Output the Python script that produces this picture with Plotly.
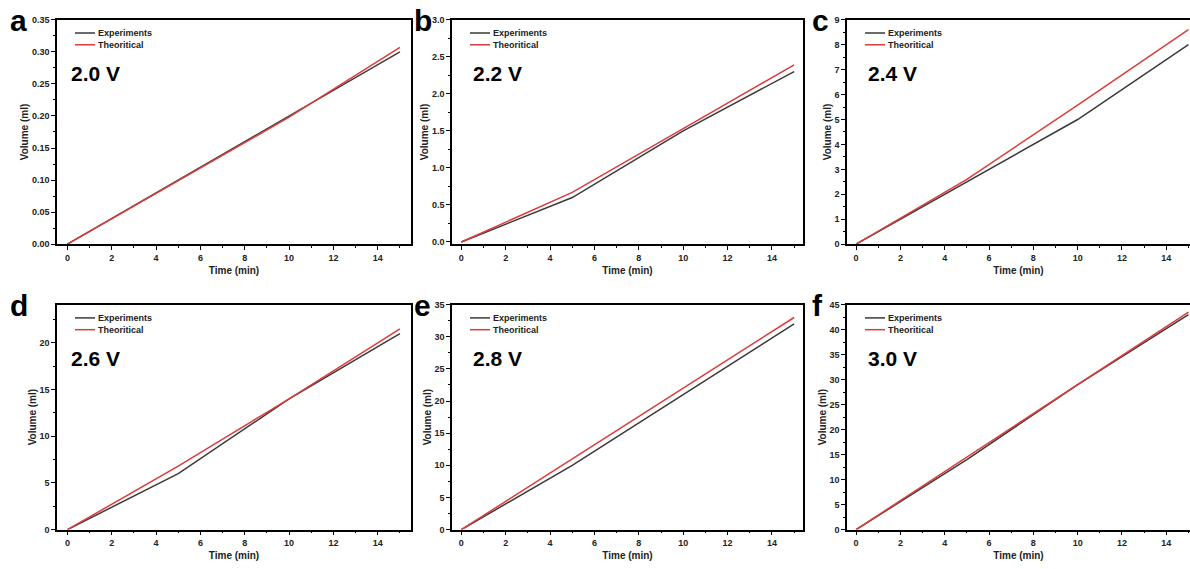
import plotly.graph_objects as go

# ---------------- data ----------------
time_min = [0, 5, 10, 15]
voltages = ["2.0 V", "2.2 V", "2.4 V", "2.6 V", "2.8 V", "3.0 V"]
panel_letters = ["a", "b", "c", "d", "e", "f"]
series_names = ["Experiments", "Theoritical"]

exp_20 = [0, 0.100, 0.200, 0.300]
theo_20 = [0, 0.099, 0.198, 0.307]
exp_22 = [0, 0.60, 1.50, 2.30]
theo_22 = [0, 0.67, 1.53, 2.39]
exp_24 = [0, 2.50, 5.00, 8.00]
theo_24 = [0, 2.60, 5.58, 8.60]
exp_26 = [0, 6.0, 14.0, 21.0]
theo_26 = [0, 6.8, 14.0, 21.5]
exp_28 = [0, 10.0, 21.0, 32.0]
theo_28 = [0, 11.0, 22.0, 33.0]
exp_30 = [0, 14.0, 29.0, 43.0]
theo_30 = [0, 14.5, 29.0, 43.5]

experiments = [exp_20, exp_22, exp_24, exp_26, exp_28, exp_30]
theoretical = [theo_20, theo_22, theo_24, theo_26, theo_28, theo_30]

y_ranges = [[0, 0.35], [-0.03, 3.0], [0, 9], [0, 24.1], [0, 35], [0, 45]]
y_dticks = [0.05, 0.5, 1, 5, 5, 5]
y_formats = [".2f", ".1f", "d", "d", "d", "d"]

# ---------------- layout geometry ----------------
W, H = 1190, 569
cols_px = [(57, 411), (452, 803), (847, 1190)]
rows_px = [(15, 243.5), (305, 534)]
x_ranges = [[-0.47, 15.5], [-0.42, 15.4], [-0.41, 15.07]]

FONT = "Liberation Sans, Arial, sans-serif"
LINE_COLORS = ["#3a3a3a", "#dc3b3b"]
TXT = "#222222"

fig = go.Figure()
layout = dict(
    width=W, height=H, autosize=False,
    margin=dict(l=0, r=0, t=0, b=0),
    paper_bgcolor="white", plot_bgcolor="white",
    font=dict(family=FONT, color=TXT),
    showlegend=False,
    annotations=[], shapes=[],
)

for i in range(6):
    r, c = divmod(i, 3)
    n = "" if i == 0 else str(i + 1)
    xa, ya = "x" + n, "y" + n
    x0, x1 = cols_px[c]
    y0, y1 = rows_px[r]
    pw, ph = min(x1, W) - x0, y1 - y0
    xdom = [x0 / W, min(x1 / W, 1.0)]
    ydom = [1 - y1 / H, 1 - y0 / H]

    for vals, name, col in zip([experiments[i], theoretical[i]], series_names, LINE_COLORS):
        fig.add_trace(go.Scatter(
            x=time_min, y=vals, mode="lines", name=name,
            line=dict(color=col, width=1.5), xaxis=xa, yaxis=ya))

    axis_common = dict(
        showline=True, linecolor="black", linewidth=1.5,
        showgrid=False, zeroline=False, ticks="outside", ticklen=4,
        tickwidth=1, tickcolor="black",
        tickfont=dict(family=FONT, size=9, weight="bold", color=TXT),
    )
    layout["xaxis" + n] = dict(
        axis_common, domain=xdom, anchor=ya, range=x_ranges[c],
        tick0=0, dtick=2, mirror=True,
        minor=dict(ticks="outside", ticklen=2, dtick=1, tick0=0, tickcolor="black"),
        title=dict(text="Time (min)", standoff=5,
                   font=dict(family=FONT, size=10, weight="bold", color=TXT)),
    )
    layout["yaxis" + n] = dict(
        axis_common, domain=ydom, anchor=xa, range=y_ranges[i],
        tick0=0, dtick=y_dticks[i], tickformat=y_formats[i],
        mirror=(c != 2),
        minor=dict(ticks="outside", ticklen=2, dtick=y_dticks[i] / 2, tick0=0,
                   tickcolor="black"),
        title=dict(text="Volume (ml)", standoff=1,
                   font=dict(family=FONT, size=10, weight="bold", color=TXT)),
    )

    # in-plot legend (short line + label), positioned in axis-domain units
    for k, (name, col) in enumerate(zip(series_names, LINE_COLORS)):
        ly = 1 - (13.5 + 12 * k) / ph
        layout["shapes"].append(dict(
            type="line", xref=xa + " domain", yref=ya + " domain",
            x0=18 / pw, x1=38 / pw, y0=ly, y1=ly,
            line=dict(color=col, width=1.5)))
        layout["annotations"].append(dict(
            text=name, xref=xa + " domain", yref=ya + " domain",
            x=39 / pw, y=ly, xanchor="left", yanchor="middle", showarrow=False,
            font=dict(family=FONT, size=9, weight="bold", color=TXT)))

    # voltage label
    layout["annotations"].append(dict(
        text=voltages[i], xref=xa + " domain", yref=ya + " domain",
        x=(12 if c == 0 else 19) / pw, y=1 - 55 / ph,
        xanchor="left", yanchor="middle", showarrow=False,
        font=dict(family=FONT, size=21, weight="bold", color="black"),
    ))
    # panel letter
    letter_x = [8, 412, 810][c]
    letter_y = [-3, 287][r]
    layout["annotations"].append(dict(
        text=panel_letters[i], xref="paper", yref="paper",
        x=letter_x / W, y=1 - letter_y / H, xanchor="left", yanchor="top",
        showarrow=False,
        font=dict(family=FONT, size=30, weight="bold", color="black"),
    ))

fig.update_layout(**layout)
fig.write_html("out.html")
